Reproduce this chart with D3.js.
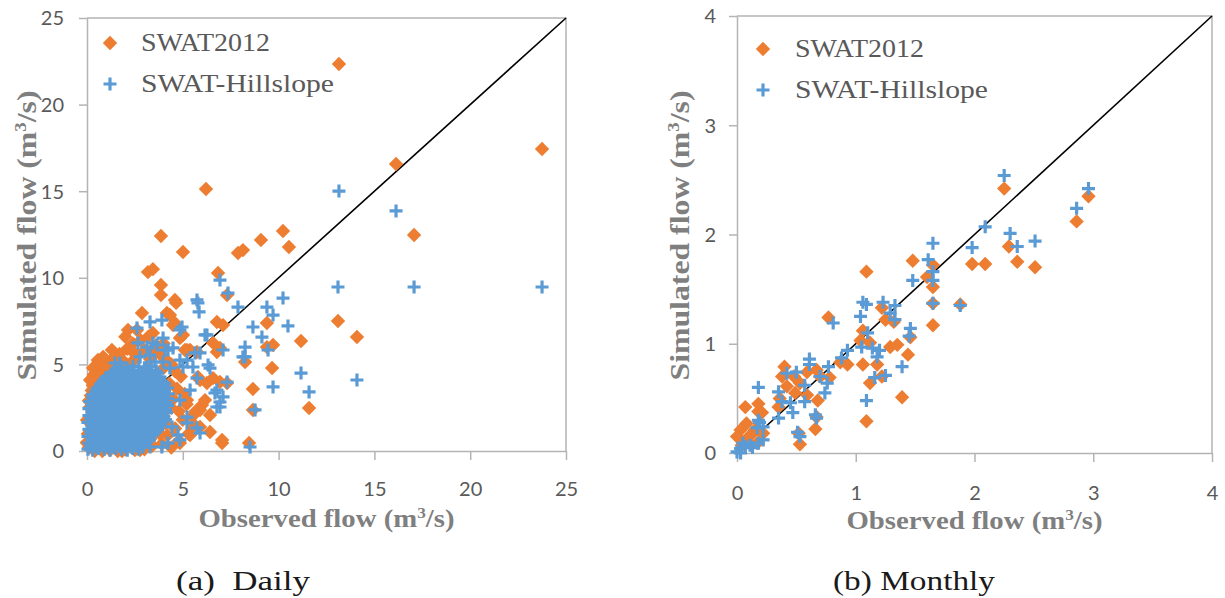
<!DOCTYPE html>
<html>
<head>
<meta charset="utf-8">
<script src="https://cdn.jsdelivr.net/npm/d3@7"></script>
<style>
  html, body { margin: 0; padding: 0; background: #fff; }
  svg { display: block; }
</style>
</head>
<body>
<svg id="chart" width="1225" height="598"></svg>
<script>
// ---------------- DATA (observed, simulated) in m3/s ----------------
const seriesNames = ["SWAT2012", "SWAT-Hillslope"];
const captions = ["(a)  Daily", "(b) Monthly"];
const dailyTicks = [0, 5, 10, 15, 20, 25];
const monthlyTicks = [0, 1, 2, 3, 4];

// Daily, SWAT2012 — scattered points
const dailySwat2012 = [
  [6.21,15.13],[3.86,12.41],[5.01,11.49],[3.18,10.33],[3.44,10.5],[6.84,10.28],[7.88,11.43],[8.14,11.6],
  [9.08,12.18],[10.23,12.7],[10.54,11.78],[3.86,9.58],[3.86,9.0],[4.59,8.72],[7.31,9.0],[13.15,22.34],
  [16.13,16.57],[23.75,17.44],[17.07,12.47],[13.1,7.51],[14.09,6.58],[11.17,6.35],[11.59,2.48],[4.65,8.55],
  [4.33,7.85],[4.59,7.39],[6.78,7.45],[7.10,7.27],[9.39,7.39],[2.87,7.97],[4.17,7.97],[4.49,7.27],
  [2.14,6.99],[2.61,6.99],[3.44,6.81],[5.01,6.70],[9.71,6.12],[1.30,5.83],[0.57,5.25],[0.84,5.43],
  [0.31,4.79],[3.39,5.72],[6.58,6.24],[5.22,5.83],[5.74,5.72],[6.94,5.95],[8.25,5.14],[9.39,6.0],
  [9.66,4.79],[8.66,3.58],[8.66,2.37],[8.46,0.46],[7.05,0.46],[6.0,2.66],[6.42,2.08],[5.90,1.39],
  [5.38,0.92],[4.85,0.46],[5.90,4.1],[6.58,4.21],[6.94,3.98],[7.31,3.93],[0.16,4.1],[0.16,2.54],
  [0.0,1.79],[0.0,0.46],[1.83,0.0],[2.77,0.06],[2.4,5.72],[4.85,6.52],[5.38,5.83],[5.11,5.83],
  [6.78,5.72],[5.79,4.27],[6.26,3.93],[6.16,2.94],[5.9,2.37],[5.64,2.25],[5.22,2.94],[6.42,1.10],
  [5.53,1.5],[7.05,0.64]
];
// Daily, SWAT2012 — dense low-flow cluster
const dailySwat2012Low = [
  [0.05,1.0],[0.1,1.8],[0.15,2.5],[0.2,3.2],[0.3,3.8],[0.35,4.4],[0.5,4.9],[0.6,5.2],[0.85,5.4],[0.9,4.6],
  [1.1,4.0],[0.6,3.6],[1.5,4.9],[1.9,5.2],[2.1,5.9],[2.4,6.2],[2.0,6.6],[2.6,5.5],[3.0,5.8],[3.3,5.3],
  [2.8,6.4],[3.6,6.1],[3.8,5.6],[4.1,5.3],[4.4,5.0],[4.0,4.8],[4.6,4.6],[4.9,4.3],[4.3,3.9],[4.7,3.6],
  [5.1,3.3],[4.5,3.0],[5.2,2.7],[4.8,2.3],[5.5,2.0],[5.0,1.8],[5.6,1.5],[4.6,1.3],[5.3,1.0],[4.2,0.9],
  [4.8,0.6],[3.9,0.4],[4.4,0.2],[3.4,0.3],[3.0,0.1],[2.5,0.05],[2.0,0.1],[1.6,0.0],[1.2,0.05],[0.8,0.0],
  [0.4,0.0],[0.1,0.2],[0.0,0.5],[1.0,2.0],[2.0,2.0],[3.0,2.0],[1.5,3.0],[2.5,3.0],[3.5,3.0],[2.0,4.0],
  [3.0,4.0],[1.0,1.0],[2.0,1.0],[3.0,1.0],[4.0,2.0],[3.6,1.5],[3.8,1.0],[3.3,0.7],[4.1,1.6],[4.4,2.5],
  [0.3,1.2],[0.2,0.7],[0.5,2.8],[0.7,4.3],[1.2,5.1],[1.7,5.6],[3.2,6.6],[4.0,6.2],[0.25,3.5],[0.45,4.1],
  [0.1,2.9],[1.0,5.0],[1.4,5.4],[2.3,5.1]
];
// Daily, SWAT-Hillslope — scattered points
const dailyHillslope = [
  [6.94,9.87],[7.36,9.12],[10.23,8.83],[5.74,8.72],[13.15,15.01],[16.13,13.86],[13.1,9.47],[17.07,9.47],
  [23.75,9.47],[10.49,7.22],[11.17,4.5],[11.59,3.41],[14.09,4.1],[5.79,8.55],[5.85,8.03],[7.88,8.31],
  [9.39,8.31],[9.71,7.85],[8.66,7.16],[4.96,7.16],[9.13,6.58],[9.45,5.83],[9.71,3.70],[8.25,6.0],
  [8.25,5.43],[6.26,6.70],[4.85,6.99],[3.91,7.56],[3.29,7.45],[2.61,7.10],[7.10,5.83],[5.90,5.66],
  [5.53,4.85],[6.42,4.79],[5.74,4.21],[5.22,5.25],[6.78,3.52],[7.10,3.12],[6.94,2.54],[8.77,2.37],
  [8.51,0.23],[5.90,1.04],[5.22,1.62],[4.75,0.92],[4.23,0.46],[3.29,0.23],[1.46,5.08],[3.13,6.0],
  [2.66,6.24],[3.44,6.24],[3.97,6.52],[4.23,5.83],[4.49,5.95],[1.04,3.81],[6.16,6.70],[5.64,5.66],
  [6.32,4.97],[7.31,3.98],[5.38,3.52],[6.68,3.35],[6.94,2.83],[6.78,2.54],[4.85,2.94],[5.22,1.96],
  [4.44,1.39],[5.74,1.33],[4.85,0.64],[3.91,0.23],[2.92,0.23],[1.72,5.08],[1.36,4.56],[4.85,5.25],
  [5.01,4.85],[3.97,5.14],[3.55,5.14],[3.13,4.85],[4.33,4.79],[3.81,4.27],[3.29,5.54],[2.77,5.43],
  [3.65,6.12],[4.07,5.83],[8.14,5.43]
];
// Daily, SWAT-Hillslope — dense low-flow cluster
const dailyHillslopeLow = [
  [0.05,0.1],[0.3,0.05],[0.6,0.15],[0.9,0.1],[1.2,0.05],[1.5,0.15],[1.8,0.1],[2.1,0.05],[2.4,0.15],[2.7,0.1],
  [0.2,0.27],[0.5,0.22],[0.8,0.28],[1.1,0.25],[1.4,0.22],[1.7,0.28],[2.0,0.25],[2.3,0.22],[2.6,0.28],[2.9,0.25],
  [0.1,0.45],[0.4,0.4],[0.7,0.5],[1.0,0.45],[1.3,0.4],[1.6,0.5],[1.9,0.45],[2.2,0.4],[2.5,0.5],[2.8,0.45],[3.1,0.5],
  [0.25,0.65],[0.55,0.62],[0.85,0.68],[1.15,0.65],[1.45,0.62],[1.75,0.68],[2.05,0.65],[2.35,0.62],[2.65,0.68],[2.95,0.65],[3.25,0.62],
  [0.05,0.85],[0.35,0.8],[0.65,0.9],[0.95,0.85],[1.25,0.8],[1.55,0.9],[1.85,0.85],[2.15,0.8],[2.45,0.9],[2.75,0.85],[3.05,0.8],[3.4,0.9],
  [0.2,1.05],[0.5,1.02],[0.8,1.08],[1.1,1.05],[1.4,1.02],[1.7,1.08],[2.0,1.05],[2.3,1.02],[2.6,1.08],[2.9,1.05],[3.2,1.02],[3.55,1.08],
  [0.1,1.25],[0.4,1.2],[0.7,1.3],[1.0,1.25],[1.3,1.2],[1.6,1.3],[1.9,1.25],[2.2,1.2],[2.5,1.3],[2.8,1.25],[3.1,1.2],[3.4,1.3],[3.7,1.25],
  [0.25,1.45],[0.55,1.42],[0.85,1.48],[1.15,1.45],[1.45,1.42],[1.75,1.48],[2.05,1.45],[2.35,1.42],[2.65,1.48],[2.95,1.45],[3.25,1.42],[3.55,1.48],[3.85,1.45],
  [0.05,1.65],[0.35,1.6],[0.65,1.7],[0.95,1.65],[1.25,1.6],[1.55,1.7],[1.85,1.65],[2.15,1.6],[2.45,1.7],[2.75,1.65],[3.05,1.6],[3.35,1.7],[3.65,1.65],[3.95,1.7],
  [0.2,1.85],[0.5,1.82],[0.8,1.88],[1.1,1.85],[1.4,1.82],[1.7,1.88],[2.0,1.85],[2.3,1.82],[2.6,1.88],[2.9,1.85],[3.2,1.82],[3.5,1.88],[3.8,1.85],[4.1,1.82],
  [0.1,2.05],[0.4,2.0],[0.7,2.1],[1.0,2.05],[1.3,2.0],[1.6,2.1],[1.9,2.05],[2.2,2.0],[2.5,2.1],[2.8,2.05],[3.1,2.0],[3.4,2.1],[3.7,2.05],[4.0,2.0],
  [0.25,2.25],[0.55,2.22],[0.85,2.28],[1.15,2.25],[1.45,2.22],[1.75,2.28],[2.05,2.25],[2.35,2.22],[2.65,2.28],[2.95,2.25],[3.25,2.22],[3.55,2.28],[3.85,2.25],[4.15,2.22],
  [0.1,2.45],[0.4,2.4],[0.7,2.5],[1.0,2.45],[1.3,2.4],[1.6,2.5],[1.9,2.45],[2.2,2.4],[2.5,2.5],[2.8,2.45],[3.1,2.4],[3.4,2.5],[3.7,2.45],[4.1,2.4],
  [0.25,2.65],[0.55,2.62],[0.85,2.68],[1.15,2.65],[1.45,2.62],[1.75,2.68],[2.05,2.65],[2.35,2.62],[2.65,2.68],[2.95,2.65],[3.25,2.62],[3.55,2.68],[3.85,2.65],[4.2,2.62],
  [0.15,2.85],[0.45,2.8],[0.75,2.9],[1.05,2.85],[1.35,2.8],[1.65,2.9],[1.95,2.85],[2.25,2.8],[2.55,2.9],[2.85,2.85],[3.15,2.8],[3.45,2.9],[3.75,2.85],[4.15,2.8],
  [0.3,3.05],[0.6,3.02],[0.9,3.08],[1.2,3.05],[1.5,3.02],[1.8,3.08],[2.1,3.05],[2.4,3.02],[2.7,3.08],[3.0,3.05],[3.3,3.02],[3.6,3.08],[3.9,3.05],[4.2,3.02],
  [0.3,3.25],[0.6,3.2],[0.9,3.3],[1.2,3.25],[1.5,3.2],[1.8,3.3],[2.1,3.25],[2.4,3.2],[2.7,3.3],[3.0,3.25],[3.3,3.2],[3.6,3.3],[3.9,3.25],[4.25,3.3],
  [0.45,3.45],[0.75,3.42],[1.05,3.48],[1.35,3.45],[1.65,3.42],[1.95,3.48],[2.25,3.45],[2.55,3.42],[2.85,3.48],[3.15,3.45],[3.45,3.42],[3.75,3.48],[4.05,3.45],
  [0.55,3.65],[0.85,3.6],[1.15,3.7],[1.45,3.65],[1.75,3.6],[2.05,3.7],[2.35,3.65],[2.65,3.6],[2.95,3.7],[3.25,3.65],[3.55,3.6],[3.85,3.7],[4.2,3.65],
  [0.7,3.85],[1.0,3.82],[1.3,3.88],[1.6,3.85],[1.9,3.82],[2.2,3.88],[2.5,3.85],[2.8,3.82],[3.1,3.88],[3.4,3.85],[3.75,3.82],[4.05,3.88],
  [0.85,4.05],[1.15,4.0],[1.45,4.1],[1.75,4.05],[2.05,4.0],[2.35,4.1],[2.65,4.05],[2.95,4.0],[3.25,4.1],[3.55,4.05],[3.9,4.0],
  [1.0,4.25],[1.3,4.22],[1.6,4.28],[1.9,4.25],[2.2,4.22],[2.5,4.28],[2.8,4.25],[3.1,4.22],[3.4,4.28],[3.75,4.25],
  [1.25,4.45],[1.55,4.4],[1.85,4.5],[2.15,4.45],[2.45,4.4],[2.75,4.5],[3.05,4.45],[3.35,4.4],[3.7,4.5],
  [1.5,4.65],[1.8,4.62],[2.1,4.68],[2.4,4.65],[2.7,4.62],[3.0,4.68],[3.3,4.65],[3.6,4.62],
  [1.8,4.85],[2.1,4.8],[2.4,4.9],[2.7,4.85],[3.0,4.8],[3.35,4.9]
];
// Monthly, SWAT2012
const monthlySwat2012 = [
  [2.25,2.42],[2.96,2.35],[2.86,2.12],[1.48,1.76],[1.65,1.72],[1.98,1.73],[2.09,1.73],[2.29,1.89],
  [2.36,1.75],[2.51,1.70],[1.60,1.61],[1.65,1.52],[1.65,1.37],[1.65,1.17],[1.46,1.06],[1.44,0.90],
  [1.39,0.51],[1.88,1.36],[1.09,1.66],[0.77,1.24],[1.22,1.33],[1.25,1.22],[1.32,1.20],[1.06,1.12],
  [1.04,1.03],[1.12,1.01],[1.29,0.97],[1.35,0.99],[1.09,0.29],[1.06,0.81],[1.18,0.81],[1.12,0.64],
  [1.22,0.70],[0.93,0.81],[0.87,0.83],[0.78,0.69],[0.70,0.70],[0.67,0.76],[0.59,0.74],[0.53,0.64],
  [0.48,0.70],[0.40,0.79],[0.38,0.70],[0.42,0.61],[0.49,0.55],[0.59,0.53],[0.68,0.48],[0.35,0.42],
  [0.36,0.50],[0.67,0.33],[0.66,0.22],[0.53,0.08],[0.52,0.18],[0.07,0.42],[0.18,0.45],[0.18,0.38],
  [0.21,0.37],[0.08,0.27],[0.03,0.21],[0.15,0.21],[0.21,0.18],[0.0,0.15],[0.08,0.12],[0.17,0.09],
  [0.22,0.18],[0.11,0.16],[0.04,0.07]
];
// Monthly, SWAT-Hillslope
const monthlyHillslope = [
  [2.25,2.54],[2.96,2.42],[2.86,2.24],[2.09,2.07],[1.98,1.88],[2.30,2.01],[2.36,1.89],[2.51,1.94],
  [1.65,1.92],[1.61,1.77],[1.48,1.58],[1.65,1.66],[1.65,1.58],[1.65,1.37],[1.88,1.35],[1.46,1.14],
  [1.45,1.07],[1.39,0.79],[1.06,1.38],[1.09,1.36],[1.23,1.38],[1.33,1.35],[1.04,1.25],[1.29,1.28],
  [1.33,1.22],[0.81,1.19],[1.10,1.10],[1.05,0.97],[1.14,0.96],[1.20,0.94],[1.18,0.88],[0.93,0.94],
  [0.88,0.87],[1.25,0.71],[1.16,0.69],[1.09,0.48],[0.61,0.86],[0.61,0.81],[0.77,0.79],[0.50,0.74],
  [0.42,0.73],[0.57,0.62],[0.70,0.70],[0.76,0.64],[0.74,0.55],[0.35,0.56],[0.38,0.47],[0.45,0.46],
  [0.57,0.47],[0.47,0.37],[0.35,0.32],[0.66,0.35],[0.67,0.32],[0.51,0.19],[0.53,0.15],[0.18,0.60],
  [0.19,0.28],[0.17,0.23],[0.22,0.12],[0.18,0.09],[0.11,0.07],[0.07,0.06],[0.03,0.04],[0.0,0.01],
  [0.13,0.05],[0.05,0.09],[0.03,0.0],[0.18,0.30],[0.22,0.24]
];

// ---------------- DRAWING ----------------
const ORANGE = "#ED7D31", BLUE = "#5B9BD5", AXIS = "#b4b4b4", TICKTXT = "#595959", TITLE = "#7f7f7f";
const SERIF = "'Liberation Serif', 'Times New Roman', serif";
const svg = d3.select("#chart");

const panels = [
  { ticks: dailyTicks, max: 25, xr: [87, 566], yr: [451, 18],
    orange: dailySwat2012Low.concat(dailySwat2012), blue: dailyHillslopeLow.concat(dailyHillslope),
    ytx: 27, xtitleY: 527, ylabX: 64, legX: 110, legY: 43, legTextX: 141,
    caption: captions[0], capX: 243, capLen: 134 },
  { ticks: monthlyTicks, max: 4, xr: [737, 1212], yr: [453, 16],
    orange: monthlySwat2012, blue: monthlyHillslope,
    ytx: 680, xtitleY: 529, ylabX: 716, legX: 763, legY: 49, legTextX: 795,
    caption: captions[1], capX: 914, capLen: 162 }
];

const diamond = "M0,-7.2L7.2,0L0,7.2L-7.2,0Z";
const plus = "M-6.5,0H6.5M0,-6.5V6.5";

panels.forEach(p => {
  const x = d3.scaleLinear().domain([0, p.max]).range(p.xr);
  const y = d3.scaleLinear().domain([0, p.max]).range(p.yr);
  const g = svg.append("g");

  // frame (top/right)
  g.append("path")
    .attr("d", `M${x(0)},${y(p.max)}H${x(p.max)}V${y(0)}`)
    .attr("fill", "none").attr("stroke", AXIS).attr("stroke-width", 1.5);

  // x axis
  const xa = g.append("g").attr("transform", `translate(0,${y(0)})`)
    .call(d3.axisBottom(x).tickValues(p.ticks).tickSize(9).tickSizeOuter(0).tickFormat(d3.format("d")));
  xa.select(".domain").attr("stroke", AXIS).attr("stroke-width", 1.5);
  xa.selectAll(".tick line").attr("stroke", AXIS).attr("stroke-width", 1.5);
  xa.selectAll(".tick text").attr("fill", TICKTXT).attr("font-family", "Lato, 'Open Sans', sans-serif")
    .attr("font-size", 20).attr("dy", null).attr("y", 0)
    .attr("transform", `translate(0,${p.max === 25 ? 45 : 47})`);

  // y axis
  const ya = g.append("g").attr("transform", `translate(${x(0)},0)`)
    .call(d3.axisLeft(y).tickValues(p.ticks).tickSize(8).tickSizeOuter(0).tickFormat(d3.format("d")));
  ya.select(".domain").attr("stroke", AXIS).attr("stroke-width", 1.5);
  ya.selectAll(".tick line").attr("stroke", AXIS).attr("stroke-width", 1.5);
  ya.selectAll(".tick text").attr("fill", TICKTXT).attr("font-family", "Lato, 'Open Sans', sans-serif")
    .attr("font-size", 20).attr("x", p.ylabX - x(0)).attr("dy", "0.34em");

  // 1:1 line
  g.append("line")
    .attr("x1", x(0)).attr("y1", y(0)).attr("x2", x(p.max)).attr("y2", y(p.max))
    .attr("stroke", "#000").attr("stroke-width", 1.6);

  // SWAT2012 diamonds
  g.append("g").selectAll("path").data(p.orange).join("path")
    .attr("d", diamond).attr("fill", ORANGE)
    .attr("transform", d => `translate(${x(d[0])},${y(d[1])})`);

  // SWAT-Hillslope pluses
  g.append("g").selectAll("path").data(p.blue).join("path")
    .attr("d", plus).attr("fill", "none").attr("stroke", BLUE).attr("stroke-width", 3.2)
    .attr("transform", d => `translate(${x(d[0])},${y(d[1])})`);

  // legend
  const lg = g.append("g");
  lg.append("path").attr("d", diamond).attr("fill", ORANGE).attr("transform", `translate(${p.legX},${p.legY})`);
  lg.append("path").attr("d", plus).attr("fill", "none").attr("stroke", BLUE).attr("stroke-width", 3.2)
    .attr("transform", `translate(${p.legX},${p.legY + 41})`);
  lg.append("text").attr("x", p.legTextX).attr("y", p.legY + 8).text(seriesNames[0])
    .attr("font-family", SERIF).attr("font-size", 25).attr("fill", TICKTXT)
    .attr("textLength", 129).attr("lengthAdjust", "spacingAndGlyphs");
  lg.append("text").attr("x", p.legTextX).attr("y", p.legY + 49).text(seriesNames[1])
    .attr("font-family", SERIF).attr("font-size", 25).attr("fill", TICKTXT)
    .attr("textLength", 193).attr("lengthAdjust", "spacingAndGlyphs");

  // axis titles
  const xt = g.append("text").attr("x", (p.xr[0] + p.xr[1]) / 2).attr("y", p.xtitleY)
    .attr("text-anchor", "middle").attr("font-family", SERIF).attr("font-weight", "bold")
    .attr("font-size", 25).attr("fill", TITLE)
    .attr("textLength", 256).attr("lengthAdjust", "spacingAndGlyphs");
  xt.append("tspan").text("Observed flow (m");
  xt.append("tspan").text("3").attr("font-size", 15).attr("dy", -9);
  xt.append("tspan").text("/s)").attr("dy", 9);

  const yt = g.append("text")
    .attr("transform", `translate(${p.ytx},${(p.yr[0] + p.yr[1]) / 2 + 1}) rotate(-90)`)
    .attr("text-anchor", "middle").attr("dy", "0.35em").attr("font-family", SERIF)
    .attr("font-weight", "bold").attr("font-size", 27).attr("fill", TITLE)
    .attr("textLength", 290).attr("lengthAdjust", "spacingAndGlyphs");
  yt.append("tspan").text("Simulated flow (m");
  yt.append("tspan").text("3").attr("font-size", 16).attr("dy", -10);
  yt.append("tspan").text("/s)").attr("dy", 10);

  // caption
  g.append("text").attr("x", p.capX).attr("y", 590).attr("text-anchor", "middle")
    .attr("font-family", SERIF).attr("font-size", 28).attr("fill", "#1a1a1a")
    .attr("textLength", p.capLen).attr("lengthAdjust", "spacingAndGlyphs")
    .style("white-space", "pre").text(p.caption);
});
</script>
</body>
</html>
